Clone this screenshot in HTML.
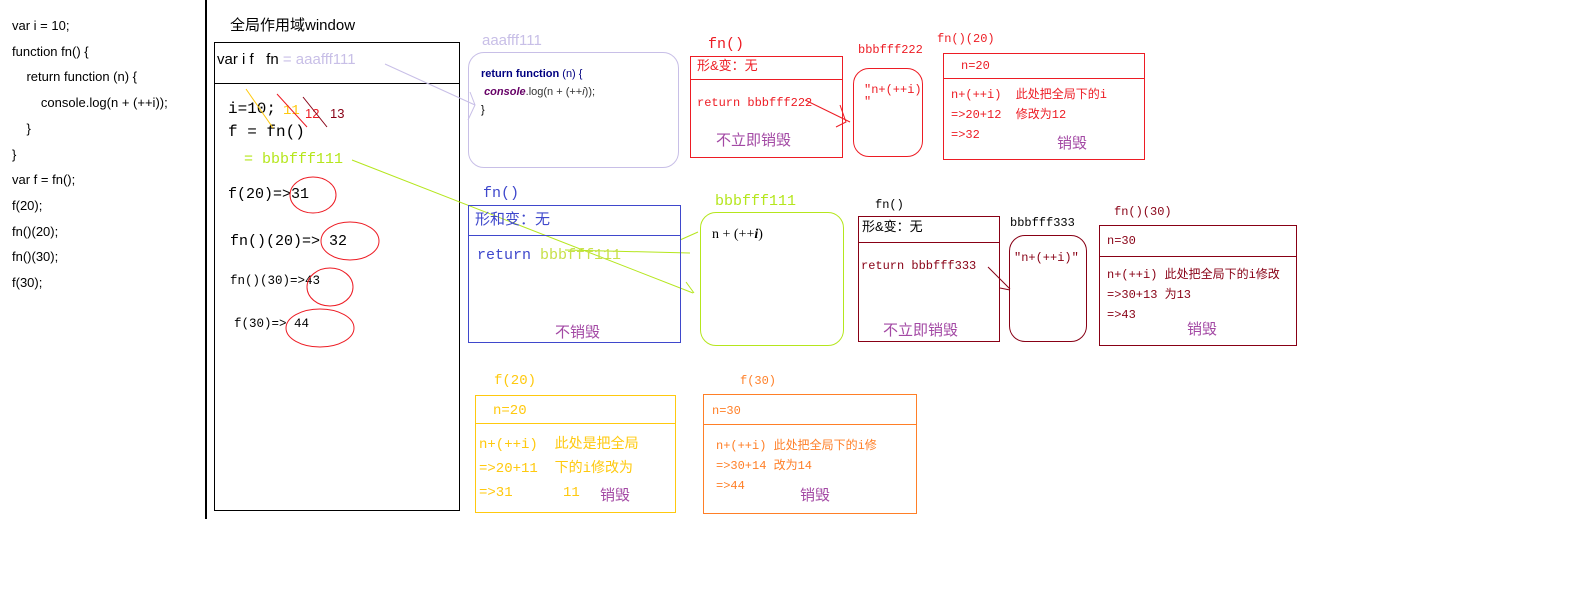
<!DOCTYPE html>
<html><head><meta charset="utf-8"><style>
body{margin:0;width:1588px;height:602px;background:#fff;position:relative;overflow:hidden;font-family:"Liberation Sans","WenQuanYi Zen Hei",sans-serif}
.t{position:absolute;white-space:nowrap;line-height:1}
.m{font-family:"Liberation Mono","WenQuanYi Zen Hei",monospace}
.b{position:absolute;box-sizing:border-box}
.p{color:#a349a4}
</style></head><body>
<!-- left code -->
<div class="t" style="left:12px;top:13px;font-size:13px;color:#000;line-height:25.7px">var i = 10;<br>function fn() {<br>&nbsp;&nbsp;&nbsp;&nbsp;return function (n) {<br>&nbsp;&nbsp;&nbsp;&nbsp;&nbsp;&nbsp;&nbsp;&nbsp;console.log(n + (++i));<br>&nbsp;&nbsp;&nbsp;&nbsp;}<br>}<br>var f = fn();<br>f(20);<br>fn()(20);<br>fn()(30);<br>f(30);</div>
<div class="b" style="left:205px;top:0;width:2px;height:519px;background:#000"></div>

<!-- main window -->
<div class="t" style="left:230px;top:18px;font-size:15px">全局作用域window</div>
<div class="b" style="left:214px;top:42px;width:246px;height:469px;border:1px solid #000"></div>
<div class="b" style="left:214px;top:83px;width:246px;height:1px;background:#000"></div>
<div class="t" style="left:217px;top:52px;font-size:15px">var i f &nbsp; fn <span style="color:#c8bfe7">= aaafff111</span></div>
<div class="t m" style="left:228px;top:101px;font-size:16px">i=10;</div>
<div class="t m" style="left:283px;top:104px;font-size:14px;color:#ffc90e">11</div>
<div class="t" style="left:305px;top:107px;font-size:13px;color:#ed1c24">12</div>
<div class="t" style="left:330px;top:107px;font-size:13px;color:#880015">13</div>
<div class="t m" style="left:228px;top:124px;font-size:16px">f = fn()</div>
<div class="t m" style="left:244px;top:152px;font-size:15px;color:#b5e61d">= bbbfff111</div>
<div class="t m" style="left:228px;top:187px;font-size:15px">f(20)=&gt;31</div>
<div class="t m" style="left:230px;top:234px;font-size:15px">fn()(20)=&gt; 32</div>
<div class="t m" style="left:230px;top:275px;font-size:12.5px">fn()(30)=&gt;43</div>
<div class="t m" style="left:234px;top:318px;font-size:12.5px">f(30)=&gt; 44</div>
<svg class="b" style="left:0;top:0" width="1588" height="602">
<g fill="none" stroke="#ed1c24" stroke-width="1">
<ellipse cx="313" cy="195" rx="23" ry="18"/>
<ellipse cx="350" cy="241" rx="29" ry="19"/>
<ellipse cx="330" cy="287" rx="23" ry="19"/>
<ellipse cx="320" cy="328" rx="34" ry="19"/>
</g>
<line x1="246" y1="89" x2="273" y2="128" stroke="#ffc90e"/>
<line x1="277" y1="94" x2="307" y2="127" stroke="#ed1c24"/>
<line x1="303" y1="97" x2="327" y2="127" stroke="#880015"/>
<path d="M385 64 L475 105 M470 92 L475 105 L468 120" stroke="#c8bfe7" fill="none"/>
<path d="M352 160 L693 293 M565 250 L690 253 M680 240 L698 232 M686 282 L694 293" stroke="#b5e61d" fill="none"/>
<path d="M805 100 L850 122 M840 105 L846 122 L836 127" stroke="#ed1c24" fill="none"/>
<path d="M988 267 L1010 289 M1000 288 L1010 290 M1006 270" stroke="#880015" fill="none"/>
</svg>

<!-- aaafff111 -->
<div class="t" style="left:482px;top:33px;font-size:15px;color:#c8bfe7">aaafff111</div>
<div class="b" style="left:468px;top:52px;width:211px;height:116px;border:1px solid #c8bfe7;border-radius:16px"></div>
<div class="t" style="left:481px;top:65px;font-size:11px;color:#000080;line-height:18px"><b>return function</b> (n) {<br>&nbsp;<i style="color:#660066"><b>console</b></i><span style="color:#333">.log(n + (++<i>i</i>));</span><br><span style="color:#000">}</span></div>

<!-- fn() blue -->
<div class="t m" style="left:483px;top:186px;font-size:15px;color:#3f48cc">fn()</div>
<div class="b" style="left:468px;top:205px;width:213px;height:138px;border:1px solid #3f48cc"></div>
<div class="b" style="left:468px;top:235px;width:213px;height:1px;background:#3f48cc"></div>
<div class="t" style="left:475px;top:212px;font-size:15px;color:#3f48cc">形和变：无</div>
<div class="t m" style="left:477px;top:248px;font-size:15px;color:#3f48cc">return <span style="color:#c8e04a">bbbfff111</span></div>
<div class="t p" style="left:555px;top:325px;font-size:15px">不销毁</div>

<!-- bbbfff111 -->
<div class="t m" style="left:715px;top:194px;font-size:15px;color:#b5e61d">bbbfff111</div>
<div class="b" style="left:700px;top:212px;width:144px;height:134px;border:1px solid #b5e61d;border-radius:16px"></div>
<div class="t" style="left:712px;top:228px;font-size:14px;font-family:'Liberation Serif',serif">n + (++<i><b>i</b></i>)</div>

<!-- fn() red -->
<div class="t m" style="left:708px;top:37px;font-size:15px;color:#ed1c24">fn()</div>
<div class="b" style="left:690px;top:56px;width:153px;height:102px;border:1px solid #ed1c24"></div>
<div class="b" style="left:690px;top:79px;width:153px;height:1px;background:#ed1c24"></div>
<div class="t" style="left:697px;top:59px;font-size:13px;color:#ed1c24">形&amp;变：无</div>
<div class="t m" style="left:697px;top:97px;font-size:12px;color:#ed1c24">return bbbfff222</div>
<div class="t p" style="left:716px;top:133px;font-size:15px">不立即销毁</div>

<div class="t m" style="left:858px;top:44px;font-size:12px;color:#ed1c24">bbbfff222</div>
<div class="b" style="left:853px;top:68px;width:70px;height:89px;border:1px solid #ed1c24;border-radius:16px"></div>
<div class="t m" style="left:864px;top:84px;font-size:12px;color:#ed1c24">"n+(++i)<br>"</div>

<div class="t m" style="left:937px;top:33px;font-size:12px;color:#ed1c24">fn()(20)</div>
<div class="b" style="left:943px;top:53px;width:202px;height:107px;border:1px solid #ed1c24"></div>
<div class="b" style="left:943px;top:78px;width:202px;height:1px;background:#ed1c24"></div>
<div class="t m" style="left:961px;top:60px;font-size:12px;color:#ed1c24">n=20</div>
<div class="t m" style="left:951px;top:85px;font-size:12px;color:#ed1c24;line-height:20px">n+(++i) &nbsp;此处把全局下的i<br>=&gt;20+12 &nbsp;修改为12<br>=&gt;32</div>
<div class="t p" style="left:1057px;top:136px;font-size:15px">销毁</div>

<!-- dark red row -->
<div class="t m" style="left:875px;top:199px;font-size:12px;color:#000">fn()</div>
<div class="b" style="left:858px;top:216px;width:142px;height:126px;border:1px solid #880015"></div>
<div class="b" style="left:858px;top:242px;width:142px;height:1px;background:#880015"></div>
<div class="t" style="left:862px;top:220px;font-size:13px;color:#000">形&amp;变：无</div>
<div class="t m" style="left:861px;top:260px;font-size:12px;color:#880015">return bbbfff333</div>
<div class="t p" style="left:883px;top:323px;font-size:15px">不立即销毁</div>

<div class="t m" style="left:1010px;top:217px;font-size:12px;color:#000">bbbfff333</div>
<div class="b" style="left:1009px;top:235px;width:78px;height:107px;border:1px solid #880015;border-radius:16px"></div>
<div class="t m" style="left:1014px;top:252px;font-size:12px;color:#880015">"n+(++i)"</div>

<div class="t m" style="left:1114px;top:206px;font-size:12px;color:#880015">fn()(30)</div>
<div class="b" style="left:1099px;top:225px;width:198px;height:121px;border:1px solid #880015"></div>
<div class="b" style="left:1099px;top:256px;width:198px;height:1px;background:#880015"></div>
<div class="t m" style="left:1107px;top:235px;font-size:12px;color:#880015">n=30</div>
<div class="t m" style="left:1107px;top:265px;font-size:12px;color:#880015;line-height:20px">n+(++i) 此处把全局下的i修改<br>=&gt;30+13 为13<br>=&gt;43</div>
<div class="t p" style="left:1187px;top:322px;font-size:15px">销毁</div>

<!-- f(20) -->
<div class="t m" style="left:494px;top:374px;font-size:14px;color:#ffc90e">f(20)</div>
<div class="b" style="left:475px;top:395px;width:201px;height:118px;border:1px solid #ffc90e"></div>
<div class="b" style="left:475px;top:423px;width:201px;height:1px;background:#ffc90e"></div>
<div class="t m" style="left:493px;top:404px;font-size:14px;color:#ffc90e">n=20</div>
<div class="t m" style="left:479px;top:433px;font-size:14px;color:#ffc90e;line-height:24px">n+(++i) &nbsp;此处是把全局<br>=&gt;20+11 &nbsp;下的i修改为<br>=&gt;31 &nbsp;&nbsp;&nbsp;&nbsp;&nbsp;11</div>
<div class="t p" style="left:600px;top:488px;font-size:15px">销毁</div>

<!-- f(30) -->
<div class="t m" style="left:740px;top:375px;font-size:12px;color:#ff7f27">f(30)</div>
<div class="b" style="left:703px;top:394px;width:214px;height:120px;border:1px solid #ff7f27"></div>
<div class="b" style="left:703px;top:424px;width:214px;height:1px;background:#ff7f27"></div>
<div class="t m" style="left:712px;top:405px;font-size:12px;color:#ff7f27">n=30</div>
<div class="t m" style="left:716px;top:436px;font-size:12px;color:#ff7f27;line-height:20px">n+(++i) 此处把全局下的i修<br>=&gt;30+14 改为14<br>=&gt;44</div>
<div class="t p" style="left:800px;top:488px;font-size:15px">销毁</div>
</body></html>
